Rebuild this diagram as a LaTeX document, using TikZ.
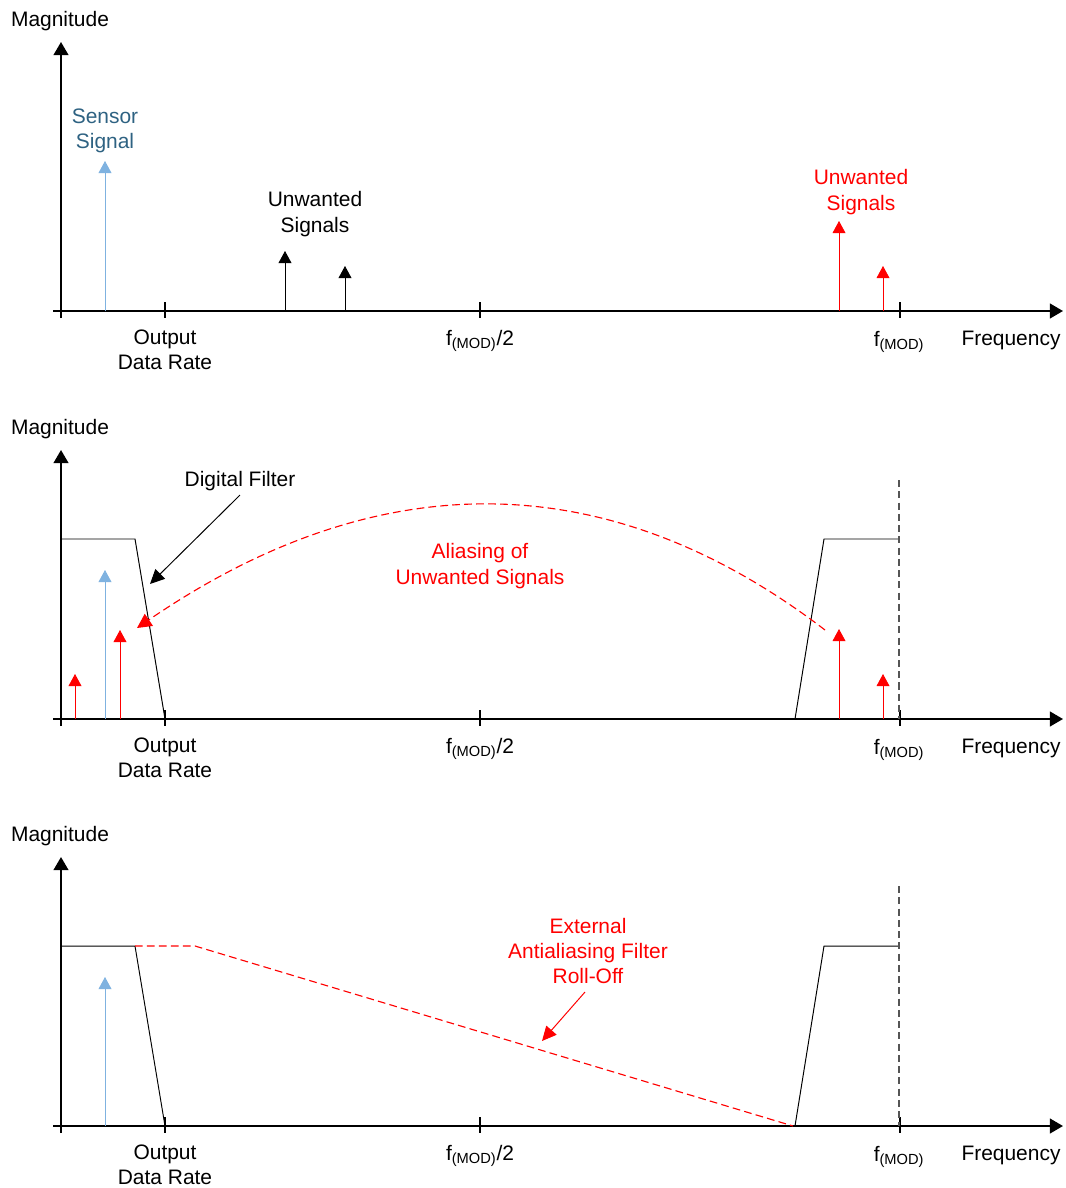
\documentclass[tikz,border=0pt]{standalone}
\usepackage{fontspec}
\setmainfont{Liberation Sans}
\usetikzlibrary{arrows.meta}
\definecolor{sigblue}{HTML}{7FB2E0}
\definecolor{sensortxt}{HTML}{2E6282}
\definecolor{unwred}{HTML}{FF0000}
\definecolor{edgegray}{HTML}{555555}
\newcommand{\fmod}{f\textsubscript{(MOD)}}

\begin{document}
\begin{tikzpicture}[
    x=0.025cm, y=-0.025cm,
    every node/.style={font=\fontsize{14.9}{18}\selectfont, inner sep=0pt, align=center},
    axisline/.style={line width=1.5pt, -{Triangle[length=0.33cm, width=0.37cm]}},
    tickmark/.style={line width=1.5pt},
    sig/.style={line width=0.6pt, -{Triangle[length=0.3cm, width=0.32cm]}},
    ptr/.style={line width=0.7pt, -{Triangle[length=0.36cm, width=0.34cm]}},
    filt/.style={line width=0.7pt},
    aliasline/.style={unwred, line width=0.8pt, dash pattern=on 5.5pt off 3pt},
    fmark/.style={edgegray, line width=0.8pt, dash pattern=on 5pt off 3pt},
]
\useasboundingbox (0,0) rectangle (1065,1188);

% ---------------- axes of the three panels
\foreach \p/\b in {1/311, 2/719, 3/1126}{
    \draw[axisline] (61,{\b+7}) -- (61,{\b-269});
    \draw[axisline] (53,\b) -- (1063,\b);
    \foreach \t in {165, 480, 900}{
        \draw[tickmark] (\t,{\b-9}) -- (\t,{\b+7});
    }
    \node (mag\p) at (60,{\b-290}) {Magnitude};
    \node (odr\p) at (165,{\b+39}) {Output\\Data Rate};
    \node (half\p) at (480,{\b+30}) {\fmod/2};
    \node (fm\p) at (899,{\b+31}) {\fmod};
    \node (freq\p) at (1011,{\b+29}) {Frequency};
}

% ---------------- top: the signals
\foreach \x/\t/\c in {105/161/sigblue, 285/251/black, 345/266/black, 839/221/unwred, 883/266/unwred}{
    \draw[sig, \c] (\x,311) -- (\x,\t);
}
\node[text=sensortxt] (sensor) at (105,131) {Sensor\\Signal};
\node (unw) at (315,214) {Unwanted\\Signals};
\node[text=unwred] (unwhi) at (861,192) {Unwanted\\Signals};

% ---------------- middle: digital filter and aliasing
\draw[filt] (61,539) -- (135,539) -- (165,719);
\draw[filt] (795,719) -- (824,539) -- (899,539);
\draw[fmark] (899,480) -- (899,719);
\foreach \x/\t/\c in {75/674/unwred, 105/570/sigblue, 120/630/unwred, 839/629/unwred, 883/674/unwred}{
    \draw[sig, \c] (\x,719) -- (\x,\t);
}
\node (dfl) at (240,481) {Digital Filter};
\coordinate (dftip) at (150,584);
\draw[ptr] (dfl.south) ++(0,4) -- (dftip);
\node[text=unwred] (alias) at (480,566) {Aliasing of\\Unwanted Signals};
\coordinate (alstart) at (825,630);
\coordinate (altip) at (137,628);
\draw[aliasline, -{Triangle[length=0.36cm, width=0.36cm]}]
    (alstart) .. controls (608,464) and (378,463) .. (altip);

% ---------------- bottom: external antialiasing filter
\draw[filt] (61,946) -- (135,946) -- (165,1126);
\draw[aliasline] (135,946) -- (195,946) -- (793,1126);
\draw[filt] (795,1126) -- (824,946) -- (899,946);
\draw[fmark] (899,886) -- (899,1126);
\draw[sig, sigblue] (105,1126) -- (105,977);
\node[text=unwred] (eaf) at (588,951) {External\\Antialiasing Filter\\Roll-Off};
\coordinate (eaftip) at (542,1041);
\draw[ptr, unwred] (585,992) -- (eaftip);

\end{tikzpicture}
\end{document}
